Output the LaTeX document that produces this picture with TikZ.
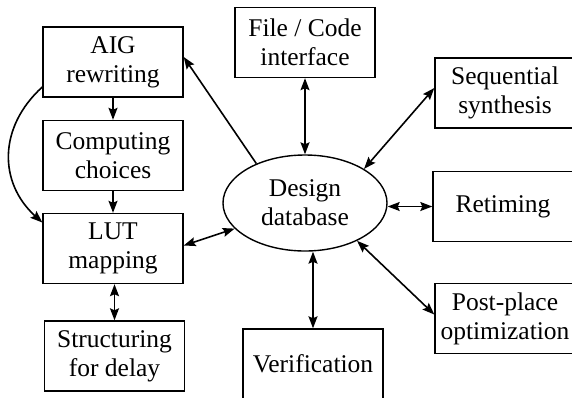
\documentclass[tikz,border=0pt]{standalone}
\usepackage{fontspec}
\setmainfont{Liberation Serif}
\usetikzlibrary{arrows.meta,shapes.geometric}
\begin{document}
\begin{tikzpicture}[x=1pt,y=-1pt,
  txt/.style={font=\rmfamily\fontsize{25.5pt}{29pt}\selectfont},
  box/.style={txt,draw,line width=1.4pt,minimum width=140pt,minimum height=70pt,inner sep=0pt,align=center},
  db/.style={txt,draw,ellipse,line width=1.4pt,minimum width=164pt,minimum height=96pt,inner sep=0pt,align=center},
  tip/.tip={Stealth[length=12pt,width=9pt,inset=2pt]},
  conn/.style={line width=1.6pt,-tip},
  bconn/.style={line width=1.6pt,tip-tip}]
\useasboundingbox (0,0) rectangle (572,397);
\clip (0,0) rectangle (572,397);
\node[box] (aig) at (113,62) {AIG\\rewriting};
\node[box] (comp) at (113,155.5) {Computing\\choices};
\node[box] (lut) at (113,248.5) {LUT\\mapping};
\node[box] (str) at (114.5,356) {Structuring\\for delay};
\node[box] (file) at (305,42.5) {File / Code\\interface};
\node[db] (db) at (305,203) {Design\\database};
\node[box] (ver) at (313,364) {Verification};
\node[box] (seq) at (505,93) {Sequential\\synthesis};
\node[box] (ret) at (503,206.5) {Retiming};
\node[box] (post) at (505,318.5) {Post-place\\optimization};
\draw[conn] (aig) -- (comp);
\draw[conn] (comp) -- (lut);
\draw[bconn] (str.north) -- (str.north |- lut.south);
\draw[conn] ([yshift=-25pt]aig.west) .. controls +(-44,40) and +(-44,-40) .. ([yshift=26pt]lut.west);
\draw[conn] (db.141) -- ([yshift=5pt]aig.east);
\draw[bconn] ([yshift=3pt]lut.east) -- (db.200);
\draw[bconn] (file.south) -- (db.north);
\draw[bconn] (db.30) -- ([yshift=5pt]seq.west);
\draw[bconn] (db.east |- ret.west) -- (ret.west);
\draw[bconn] (db.-36) -- ([yshift=4pt]post.west);
\draw[bconn] (ver.north |- db.south) -- (ver.north);
\end{tikzpicture}
\end{document}
